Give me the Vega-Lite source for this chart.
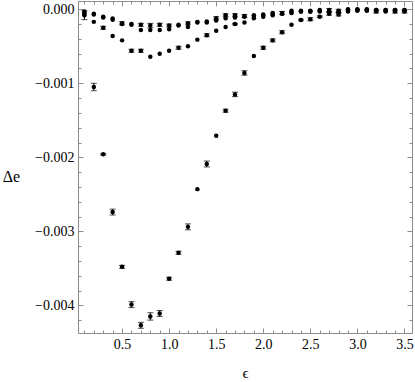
{
  "$schema": "https://vega.github.io/schema/vega-lite/v6.json",
  "width": 334,
  "height": 332,
  "autosize": {"type": "none"},
  "padding": {"left": 78, "top": 1, "right": 3, "bottom": 49},
  "background": "white",
  "config": {
    "font": "Times New Roman, Liberation Serif, serif",
    "view": {"stroke": "#8c8c8c", "strokeWidth": 1},
    "axis": {
      "domain": false,
      "grid": false,
      "labelFont": "Times New Roman, Liberation Serif, serif",
      "labelFontSize": 14,
      "labelColor": "#000000",
      "tickColor": "#8c8c8c",
      "tickWidth": 1,
      "titleFont": "Times New Roman, Liberation Serif, serif",
      "titleFontWeight": "normal",
      "titleColor": "#000000"
    }
  },
  "data": {
    "values": [
      {"s": "a", "x": 0.1, "y": -0.00003, "err": 0},
      {"s": "a", "x": 0.2, "y": -0.00006, "err": 0},
      {"s": "a", "x": 0.3, "y": -0.0001, "err": 0},
      {"s": "a", "x": 0.4, "y": -0.000125, "err": 0},
      {"s": "a", "x": 0.5, "y": -0.00019, "err": 0.00002},
      {"s": "a", "x": 0.6, "y": -0.0002, "err": 0},
      {"s": "a", "x": 0.7, "y": -0.00021, "err": 0.00002},
      {"s": "a", "x": 0.8, "y": -0.00022, "err": 0.00003},
      {"s": "a", "x": 0.9, "y": -0.00021, "err": 0.00002},
      {"s": "a", "x": 1.0, "y": -0.00022, "err": 0.00002},
      {"s": "a", "x": 1.1, "y": -0.00021, "err": 0},
      {"s": "a", "x": 1.2, "y": -0.00019, "err": 0.00002},
      {"s": "a", "x": 1.3, "y": -0.00017, "err": 0},
      {"s": "a", "x": 1.4, "y": -0.000165, "err": 0},
      {"s": "a", "x": 1.5, "y": -0.00012, "err": 0.00002},
      {"s": "a", "x": 1.6, "y": -0.00008, "err": 0.00002},
      {"s": "a", "x": 1.7, "y": -0.00008, "err": 0.00002},
      {"s": "a", "x": 1.8, "y": -0.00009, "err": 0.00002},
      {"s": "a", "x": 1.9, "y": -0.00008, "err": 0},
      {"s": "a", "x": 2.0, "y": -0.00007, "err": 0},
      {"s": "a", "x": 2.1, "y": -0.00005, "err": 0},
      {"s": "a", "x": 2.2, "y": -0.00005, "err": 0.00002},
      {"s": "a", "x": 2.3, "y": -0.00002, "err": 0},
      {"s": "a", "x": 2.4, "y": -0.00002, "err": 0},
      {"s": "a", "x": 2.5, "y": -0.00002, "err": 0},
      {"s": "a", "x": 2.6, "y": -0.00001, "err": 0},
      {"s": "a", "x": 2.7, "y": -0.00001, "err": 0.00002},
      {"s": "a", "x": 2.8, "y": -0.00002, "err": 0.00002},
      {"s": "a", "x": 2.9, "y": 0, "err": 0},
      {"s": "a", "x": 3.0, "y": 0, "err": 0},
      {"s": "a", "x": 3.1, "y": 0, "err": 0},
      {"s": "a", "x": 3.2, "y": -0.00001, "err": 0},
      {"s": "a", "x": 3.3, "y": -0.00001, "err": 0},
      {"s": "a", "x": 3.4, "y": -0.00001, "err": 0},
      {"s": "a", "x": 3.5, "y": -0.00001, "err": 0},

      {"s": "b", "x": 0.1, "y": -0.00005, "err": 0},
      {"s": "b", "x": 0.2, "y": -0.00007, "err": 0},
      {"s": "b", "x": 0.3, "y": -0.00011, "err": 0},
      {"s": "b", "x": 0.4, "y": -0.00014, "err": 0},
      {"s": "b", "x": 0.5, "y": -0.0002, "err": 0},
      {"s": "b", "x": 0.6, "y": -0.00021, "err": 0},
      {"s": "b", "x": 0.7, "y": -0.00028, "err": 0},
      {"s": "b", "x": 0.8, "y": -0.00028, "err": 0},
      {"s": "b", "x": 0.9, "y": -0.00028, "err": 0},
      {"s": "b", "x": 1.0, "y": -0.00027, "err": 0},
      {"s": "b", "x": 1.1, "y": -0.00022, "err": 0},
      {"s": "b", "x": 1.2, "y": -0.00024, "err": 0},
      {"s": "b", "x": 1.3, "y": -0.00018, "err": 0},
      {"s": "b", "x": 1.4, "y": -0.00018, "err": 0},
      {"s": "b", "x": 1.5, "y": -0.00015, "err": 0},
      {"s": "b", "x": 1.6, "y": -0.00012, "err": 0},
      {"s": "b", "x": 1.7, "y": -0.00011, "err": 0},
      {"s": "b", "x": 1.8, "y": -0.0001, "err": 0},
      {"s": "b", "x": 1.9, "y": -0.00009, "err": 0},
      {"s": "b", "x": 2.0, "y": -0.00008, "err": 0},
      {"s": "b", "x": 2.1, "y": -0.00006, "err": 0},
      {"s": "b", "x": 2.2, "y": -0.00006, "err": 0},
      {"s": "b", "x": 2.3, "y": -0.00004, "err": 0},
      {"s": "b", "x": 2.4, "y": -0.00003, "err": 0},
      {"s": "b", "x": 2.5, "y": -0.00003, "err": 0},
      {"s": "b", "x": 2.6, "y": -0.00002, "err": 0},
      {"s": "b", "x": 2.7, "y": -0.00004, "err": 0},
      {"s": "b", "x": 2.8, "y": -0.00005, "err": 0},
      {"s": "b", "x": 2.9, "y": -0.00001, "err": 0},
      {"s": "b", "x": 3.0, "y": -0.00001, "err": 0},
      {"s": "b", "x": 3.1, "y": -0.00001, "err": 0},
      {"s": "b", "x": 3.2, "y": -0.00002, "err": 0},
      {"s": "b", "x": 3.3, "y": -0.00002, "err": 0},
      {"s": "b", "x": 3.4, "y": -0.00002, "err": 0},
      {"s": "b", "x": 3.5, "y": -0.00002, "err": 0},

      {"s": "c", "x": 0.1, "y": -0.00006, "err": 0},
      {"s": "c", "x": 0.2, "y": -0.00017, "err": 0},
      {"s": "c", "x": 0.3, "y": -0.00025, "err": 0.00002},
      {"s": "c", "x": 0.4, "y": -0.00036, "err": 0},
      {"s": "c", "x": 0.5, "y": -0.00042, "err": 0},
      {"s": "c", "x": 0.6, "y": -0.00056, "err": 0.00002},
      {"s": "c", "x": 0.7, "y": -0.00056, "err": 0.00002},
      {"s": "c", "x": 0.8, "y": -0.00064, "err": 0},
      {"s": "c", "x": 0.9, "y": -0.0006, "err": 0},
      {"s": "c", "x": 1.0, "y": -0.00056, "err": 0},
      {"s": "c", "x": 1.1, "y": -0.00052, "err": 0.00002},
      {"s": "c", "x": 1.2, "y": -0.0005, "err": 0},
      {"s": "c", "x": 1.3, "y": -0.00041, "err": 0},
      {"s": "c", "x": 1.4, "y": -0.00035, "err": 0.00002},
      {"s": "c", "x": 1.5, "y": -0.00029, "err": 0},
      {"s": "c", "x": 1.6, "y": -0.00024, "err": 0},
      {"s": "c", "x": 1.7, "y": -0.0002, "err": 0.00001},
      {"s": "c", "x": 1.8, "y": -0.00018, "err": 0},
      {"s": "c", "x": 1.9, "y": -0.00012, "err": 0},
      {"s": "c", "x": 2.0, "y": -0.0001, "err": 0},
      {"s": "c", "x": 2.1, "y": -0.00008, "err": 0},
      {"s": "c", "x": 2.2, "y": -0.00006, "err": 0},
      {"s": "c", "x": 2.3, "y": -0.00005, "err": 0},
      {"s": "c", "x": 2.4, "y": -0.00003, "err": 0},
      {"s": "c", "x": 2.5, "y": -0.00003, "err": 0},
      {"s": "c", "x": 2.6, "y": -0.00003, "err": 0},
      {"s": "c", "x": 2.7, "y": -0.00003, "err": 0},
      {"s": "c", "x": 2.8, "y": -0.00003, "err": 0},
      {"s": "c", "x": 2.9, "y": -0.00001, "err": 0},
      {"s": "c", "x": 3.0, "y": -0.00001, "err": 0},
      {"s": "c", "x": 3.1, "y": -0.00001, "err": 0},
      {"s": "c", "x": 3.2, "y": -0.00001, "err": 0},
      {"s": "c", "x": 3.3, "y": -0.00001, "err": 0},
      {"s": "c", "x": 3.4, "y": -0.00001, "err": 0},
      {"s": "c", "x": 3.5, "y": -0.00001, "err": 0},

      {"s": "d", "x": 0.1, "y": -0.00008, "err": 0.00006},
      {"s": "d", "x": 0.2, "y": -0.00105, "err": 0.00005},
      {"s": "d", "x": 0.3, "y": -0.00196, "err": 0.00001},
      {"s": "d", "x": 0.4, "y": -0.00274, "err": 0.00004},
      {"s": "d", "x": 0.5, "y": -0.00348, "err": 0.00002},
      {"s": "d", "x": 0.6, "y": -0.00399, "err": 0.00004},
      {"s": "d", "x": 0.7, "y": -0.00427, "err": 0.00004},
      {"s": "d", "x": 0.8, "y": -0.00415, "err": 0.00005},
      {"s": "d", "x": 0.9, "y": -0.00411, "err": 0.00004},
      {"s": "d", "x": 1.0, "y": -0.00364, "err": 0.00002},
      {"s": "d", "x": 1.1, "y": -0.00329, "err": 0.00002},
      {"s": "d", "x": 1.2, "y": -0.00294, "err": 0.00004},
      {"s": "d", "x": 1.3, "y": -0.00243, "err": 0},
      {"s": "d", "x": 1.4, "y": -0.00209, "err": 0.00004},
      {"s": "d", "x": 1.5, "y": -0.00171, "err": 0},
      {"s": "d", "x": 1.6, "y": -0.00137, "err": 0.00002},
      {"s": "d", "x": 1.7, "y": -0.00115, "err": 0.00003},
      {"s": "d", "x": 1.8, "y": -0.00086, "err": 0.00003},
      {"s": "d", "x": 1.9, "y": -0.00063, "err": 0},
      {"s": "d", "x": 2.0, "y": -0.00052, "err": 0.00002},
      {"s": "d", "x": 2.1, "y": -0.00042, "err": 0.00002},
      {"s": "d", "x": 2.2, "y": -0.00031, "err": 0.00002},
      {"s": "d", "x": 2.3, "y": -0.00021, "err": 0},
      {"s": "d", "x": 2.4, "y": -0.000145, "err": 0.00001},
      {"s": "d", "x": 2.5, "y": -0.000135, "err": 0.00002},
      {"s": "d", "x": 2.6, "y": -0.0001, "err": 0.00001},
      {"s": "d", "x": 2.7, "y": -0.00006, "err": 0.00002},
      {"s": "d", "x": 2.8, "y": -0.00007, "err": 0.00002},
      {"s": "d", "x": 2.9, "y": -0.00003, "err": 0},
      {"s": "d", "x": 3.0, "y": -0.00002, "err": 0},
      {"s": "d", "x": 3.1, "y": -0.00002, "err": 0},
      {"s": "d", "x": 3.2, "y": -0.00003, "err": 0.00002},
      {"s": "d", "x": 3.3, "y": -0.00003, "err": 0},
      {"s": "d", "x": 3.4, "y": -0.00003, "err": 0.00002},
      {"s": "d", "x": 3.5, "y": -0.00003, "err": 0.00002}
    ]
  },
  "resolve": {"axis": {"x": "independent", "y": "independent"}},
  "layer": [
    {
      "mark": {"type": "point", "filled": true, "shape": "circle", "size": 20, "color": "#000000", "opacity": 1},
      "encoding": {
        "x": {
          "field": "x", "type": "quantitative",
          "scale": {"domain": [0.032, 3.58], "nice": false, "zero": false},
          "axis": {
            "orient": "bottom",
            "values": [0.1,0.2,0.3,0.4,0.5,0.6,0.7,0.8,0.9,1.0,1.1,1.2,1.3,1.4,1.5,1.6,1.7,1.8,1.9,2.0,2.1,2.2,2.3,2.4,2.5,2.6,2.7,2.8,2.9,3.0,3.1,3.2,3.3,3.4,3.5],
            "labelExpr": "round(datum.value*10) % 5 == 0 ? format(datum.value, '.1f') : ''",
            "tickSize": {"condition": {"test": "round(datum.value*10) % 5 == 0", "value": -5}, "value": -3},
            "labelPadding": 9,
            "labelFlush": false,
            "labelOverlap": false,
            "title": "ϵ",
            "titleFontSize": 15,
            "titleAngle": 0,
            "titleAlign": "center",
            "titleBaseline": "alphabetic",
            "titleX": 167,
            "titleY": 44
          }
        },
        "y": {
          "field": "y", "type": "quantitative",
          "scale": {"domain": [-0.004374, 0.000112], "nice": false, "zero": false},
          "axis": {
            "orient": "left",
            "values": [0,-0.0002,-0.0004,-0.0006,-0.0008,-0.001,-0.0012,-0.0014,-0.0016,-0.0018,-0.002,-0.0022,-0.0024,-0.0026,-0.0028,-0.003,-0.0032,-0.0034,-0.0036,-0.0038,-0.004,-0.0042],
            "labelExpr": "abs(datum.value*1000 - round(datum.value*1000)) < 0.001 ? (datum.value < -0.0000001 ? '−' : '') + format(abs(datum.value), '.3f') : ''",
            "tickSize": {"condition": {"test": "abs(datum.value*1000 - round(datum.value*1000)) < 0.001", "value": -5}, "value": -3},
            "labelPadding": 9,
            "labelFlush": false,
            "labelOverlap": false,
            "labelBaseline": "middle",
            "title": "Δe",
            "titleFontSize": 16,
            "titleAngle": 0,
            "titleAlign": "center",
            "titleBaseline": "alphabetic",
            "titleX": -67,
            "titleY": 180
          }
        }
      }
    },
    {
      "transform": [{"filter": "datum.err > 0"}],
      "mark": {"type": "errorbar", "color": "#000000", "thickness": 1, "ticks": {"size": 6, "color": "#000000"}},
      "encoding": {
        "x": {
          "field": "x", "type": "quantitative",
          "scale": {"domain": [0.032, 3.58], "nice": false, "zero": false},
          "axis": {
            "orient": "top",
            "values": [0.1,0.2,0.3,0.4,0.5,0.6,0.7,0.8,0.9,1.0,1.1,1.2,1.3,1.4,1.5,1.6,1.7,1.8,1.9,2.0,2.1,2.2,2.3,2.4,2.5,2.6,2.7,2.8,2.9,3.0,3.1,3.2,3.3,3.4,3.5],
            "labels": false,
            "tickSize": {"condition": {"test": "round(datum.value*10) % 5 == 0", "value": -5}, "value": -3},
            "title": null
          }
        },
        "y": {
          "field": "y", "type": "quantitative",
          "scale": {"domain": [-0.004374, 0.000112], "nice": false, "zero": false},
          "axis": {
            "orient": "right",
            "values": [0,-0.0002,-0.0004,-0.0006,-0.0008,-0.001,-0.0012,-0.0014,-0.0016,-0.0018,-0.002,-0.0022,-0.0024,-0.0026,-0.0028,-0.003,-0.0032,-0.0034,-0.0036,-0.0038,-0.004,-0.0042],
            "labels": false,
            "tickSize": {"condition": {"test": "abs(datum.value*1000 - round(datum.value*1000)) < 0.001", "value": -5}, "value": -3},
            "title": null
          }
        },
        "yError": {"field": "err"}
      }
    }
  ]
}
